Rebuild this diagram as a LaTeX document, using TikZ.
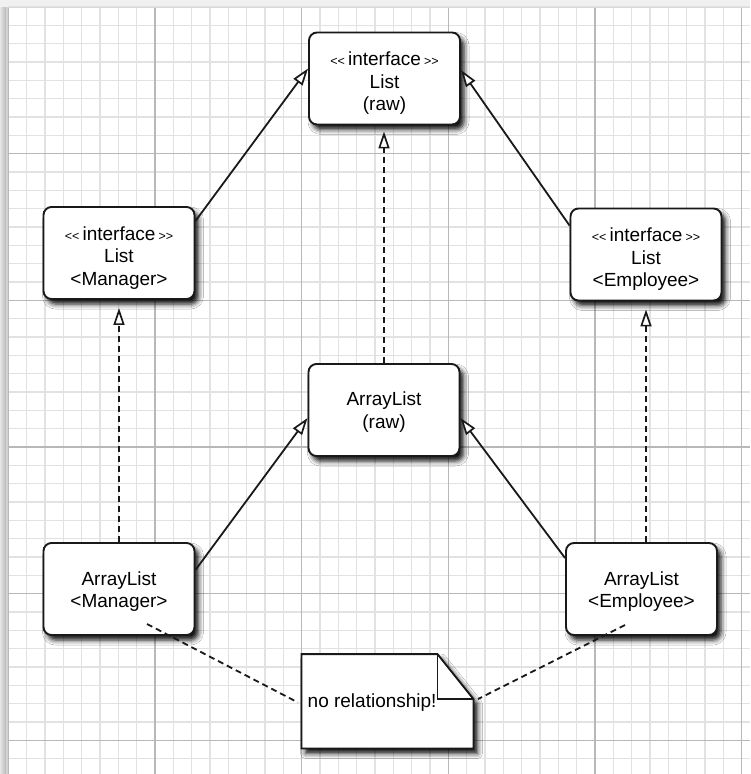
\documentclass[tikz,border=0pt]{standalone}
\usepackage{fontspec}
\setmainfont{Liberation Sans}
\usetikzlibrary{arrows.meta,shadows.blur,calc}
\definecolor{fineg}{HTML}{E2E2E2}
\definecolor{majg}{HTML}{B8B8B8}
\newcommand{\umlst}[1]{{\fontsize{12.5}{12}\selectfont<{}<}\,#1\,{\fontsize{12.5}{12}\selectfont>{}>}}
\begin{document}
\begin{tikzpicture}[x=1pt,y=-1pt,
  fineline/.style={draw=fineg, line width=1.3pt},
  majline/.style={draw=majg, line width=1.3pt},
  umlbox/.style={draw=black!90, line width=1.9pt, fill=white, rounded corners=8pt,
    minimum width=151pt, minimum height=92pt, inner sep=0pt,
    blur shadow={shadow xshift=4pt, shadow yshift=-5pt, shadow blur radius=5pt, shadow opacity=95}},
  umltext/.style={inner sep=0pt, align=center, font=\fontsize{19}{22.5}\selectfont},
  inherit/.style={draw=black!90, line width=1.8pt, -{Triangle[length=17pt, width=11pt, fill=white, line width=1.7pt]}},
  realize/.style={inherit, dash pattern=on 6pt off 4pt},
  nolink/.style={draw=black!90, line width=1.8pt, dash pattern=on 6pt off 4pt},
  notestyle/.style={draw=black!90, line width=1.9pt, fill=white, line join=miter,
    blur shadow={shadow xshift=4pt, shadow yshift=-5pt, shadow blur radius=5pt, shadow opacity=95}}
]
\useasboundingbox (0,0) rectangle (750,774);
% paper background
\fill[gray!12] (0,0) rectangle (750,774);
\shade[left color=gray!20, right color=gray!55] (0,7) rectangle (6,774);
\fill[gray!35] (6,7) rectangle (8.3,774);
\fill[white] (8.3,7) rectangle (750,774);
% grid
\foreach \i in {0,...,40} {\pgfmathsetmacro\xx{8.3+18.333*\i}\draw[fineline] (\xx,7) -- (\xx,774);}
\foreach \j in {0,...,41} {\pgfmathsetmacro\yy{7.1+18.333*\j}\draw[fineline] (8.3,\yy) -- (750,\yy);}
\foreach \i in {1,...,5} {\pgfmathsetmacro\xx{8.3+146.667*\i}\draw[majline] (\xx,7) -- (\xx,774);}
\foreach \j in {1,...,5} {\pgfmathsetmacro\yy{7.1+146.667*\j}\draw[majline] (8.3,\yy) -- (750,\yy);}
\draw[majg, line width=1.3pt] (8.3,7) -- (8.3,774);
\draw[gray!30, line width=1pt] (8.3,7) -- (750,7);

% boxes
\node[umlbox] (lraw) at (384.5,78.5) {};
\node[umlbox] (lman) at (119,253) {};
\node[umlbox] (lemp) at (646,254.5) {};
\node[umlbox] (araw) at (384,410) {};
\node[umlbox] (aman) at (119,589) {};
\node[umlbox] (aemp) at (641.5,589) {};
% box texts
\node[umltext] (lrawt) at ([yshift=-5pt]lraw.center) {\umlst{interface}\\List\\(raw)};
\node[umltext] (lmant) at ([yshift=-5pt]lman.center) {\umlst{interface}\\List\\<Manager>};
\node[umltext] (lempt) at ([yshift=-5pt]lemp.center) {\umlst{interface}\\List\\<Employee>};
\node[umltext] (arawt) at ([yshift=-2pt]araw.center) {ArrayList\\(raw)};
\node[umltext] (amant) at ([yshift=-2.5pt]aman.center) {ArrayList\\<Manager>};
\node[umltext] (aempt) at ([yshift=-2.5pt]aemp.center) {ArrayList\\<Employee>};

% note
\node[minimum width=171.6pt, minimum height=94pt, inner sep=0pt] (note) at (387.5,701.3) {};
\path[notestyle] (note.north west) -- ([xshift=-36pt]note.north east) -- ([yshift=-45pt]note.north east)
   -- (note.south east) -- (note.south west) -- cycle;
\draw[draw=black!90, line width=1.9pt, line join=miter] ([xshift=-36pt]note.north east) |- ([yshift=-45pt]note.north east);
\node[anchor=west, inner sep=0pt, font=\fontsize{19}{22}\selectfont] (notetext) at ([xshift=6pt,yshift=-1pt]note.west) {no relationship!};

% connectors
\draw[inherit] ([yshift=-15pt]lman.north east) -- ([yshift=10pt]lraw.west);
\draw[inherit] ([yshift=-18pt]lemp.north west) -- ([yshift=8.5pt]lraw.east);
\draw[inherit] ([yshift=19pt]aman.east) -- ([yshift=-8pt]araw.west);
\draw[inherit] ([yshift=-16pt]aemp.north west) -- ([yshift=-8pt]araw.east);
\draw[realize, shorten >=6pt] (araw.north) -- (araw.north |- lraw.south);
\draw[realize, shorten >=8pt] (aman.north) -- (aman.north |- lman.south);
\draw[realize, shorten >=8pt] (lemp.south |- aemp.north) -- (lemp.south);

\coordinate (amtail) at (147,624);
\coordinate (aetail) at (625,625);
\draw[nolink, shorten >=4pt] (amtail) -- ([yshift=-3pt]note.west);
\draw[nolink, shorten >=5pt] (aetail) -- (note.east);
\end{tikzpicture}
\end{document}
